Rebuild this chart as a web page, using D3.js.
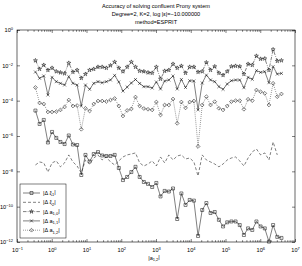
<!DOCTYPE html>
<html>
<head>
<meta charset="utf-8">
<script src="https://cdn.jsdelivr.net/npm/d3@7"></script>
<style>
  body { margin: 0; background: #fff; }
  text { font-family: "Liberation Sans", Arial, sans-serif; fill: #000; }
</style>
</head>
<body>
<svg id="chart" width="302" height="266"></svg>
<script>
// |a_{1,2}| sample points
const aVals = [0.339, 0.447, 0.589, 0.776, 1.02, 1.35, 1.78, 2.34, 3.09, 4.07,
  5.37, 7.08, 9.33, 12.3, 16.2, 21.4, 28.2, 37.2, 49.0, 64.6,
  85.1, 112, 148, 195, 257, 339, 447, 589, 776, 1023,
  1349, 1778, 2344, 3090, 4074, 5370, 7079, 9333, 12303, 16218,
  21380, 28184, 37154, 48978, 64565, 85114, 112202, 147911, 194984, 257040,
  338844, 446684, 588844, 776247, 1023293, 1348963, 1778279, 2344229, 3090295, 4073803];

const dXi1 = [2.75e-5, 4.8e-6, 8.1e-6, 4.3e-7, 1.7e-6, 7.8e-7, 4.6e-7, 3.5e-7, 1.07e-6, 3.3e-7,
  3.1e-7, 6.2e-9, 8.5e-8, 3.6e-8, 9.5e-8, 1.23e-7, 7.9e-8, 7.4e-8, 7.4e-8, 8.5e-8,
  1.55e-8, 3.2e-9, 4.8e-9, 9.1e-9, 1.8e-8, 4.8e-9, 2.5e-9, 1.95e-9, 1.3e-9, 2.2e-9,
  3.8e-10, 7.8e-10, 7.2e-10, 1.07e-9, 2.0e-11, 5.6e-10, 1.26e-10, 2.4e-10, 2.2e-10, 2.2e-12,
  6.5e-11, 1.6e-10, 4.4e-11, 5.0e-11, 1.8e-11, 7.6e-12, 1.3e-11, 1.45e-11, 1.45e-11, 9.1e-12,
  2.5e-12, 5.9e-12, 4.8e-12, 1.45e-11, 7.6e-12, 5.9e-12, 1.05e-12, 9.1e-12, 1.95e-12, 1.7e-12];

const dXi2 = [2.3e-8, 3.4e-8, 3.0e-8, 9.1e-9, 3.0e-8, 3.9e-8, 1.8e-8, 3.0e-8, 8.5e-8, 3.4e-8,
  2.0e-8, 8.1e-9, 4.4e-8, 2.6e-8, 5.7e-8, 8.5e-8, 4.4e-8, 6.5e-8, 3.4e-8, 2.3e-8,
  3.9e-8, 6.5e-8, 8.5e-8, 9.6e-8, 1.1e-7, 3.0e-8, 2.0e-8, 2.6e-8, 3.9e-8, 2.0e-8,
  6.5e-8, 3.0e-8, 8.5e-8, 4.4e-8, 7.4e-8, 8.5e-8, 5.0e-8, 5.7e-8, 3.4e-8, 5.5e-9,
  8.5e-8, 4.4e-8, 3.4e-8, 2.6e-8, 1.8e-8, 2.6e-8, 4.4e-8, 5.7e-8, 6.5e-8, 3.9e-8,
  2.0e-8, 5.7e-8, 1.26e-7, 1.85e-7, 8.5e-8, 1.1e-7, 4.4e-8, 4.6e-7, 8.5e-8, null];

const dA10 = [1.88e-2, 6.2e-3, 1.04e-2, 5.4e-3, 7.1e-3, 4.5e-3, 3.9e-3, 3.45e-3, 1.36e-2, 4.2e-3,
  5.4e-3, 1.9e-3, 3.2e-3, 5.4e-3, 6.2e-3, 8.1e-3, 8.1e-3, 7.1e-3, 9.8e-3, 1.55e-2,
  7.1e-3, 4.5e-3, 8.1e-3, 1.55e-2, 8.1e-3, 4.8e-3, 4.5e-3, 3.9e-3, 3.7e-3, 8.1e-3,
  1.7e-3, 4.8e-3, 5.4e-3, 1.19e-2, 7.1e-3, 9.2e-3, 3.7e-3, 8.1e-3, 8.1e-3, 4.2e-3,
  4.5e-3, 1.45e-2, 5.4e-3, 8.6e-3, 3.7e-3, 2.8e-3, 4.5e-3, 8.6e-3, 9.2e-3, 8.6e-3,
  3.2e-3, 1.19e-2, 1.04e-2, 3.4e-2, 2.3e-2, 2.4e-2, 5.4e-3, 7.9e-2, 1.76e-2, 1.88e-2];

const dA11 = [4.2e-3, 1.85e-3, 2.5e-3, 2.1e-4, 2.1e-3, 1.19e-3, 9.6e-4, 7.7e-4, 2.3e-3, 9.6e-4,
  7.7e-4, 5.0e-5, 7.7e-4, 4.4e-4, 9.6e-4, 1.19e-3, 1.04e-3, 1.19e-3, 1.48e-3, 2.7e-3,
  1.14e-3, 3.5e-4, 5.9e-4, 1.0e-3, 1.58e-3, 9.4e-4, 6.2e-4, 6.2e-4, 5.2e-4, 1.14e-3,
  4.6e-4, 1.3e-3, 1.48e-3, 2.5e-3, 4.6e-4, 1.58e-3, 5.6e-4, 1.35e-3, 1.3e-3, 3.0e-5,
  1.0e-3, 2.8e-3, 1.48e-3, 1.19e-3, 6.2e-4, 4.4e-4, 8.8e-4, 1.35e-3, 1.48e-3, 1.48e-3,
  5.4e-4, 2.1e-3, 1.62e-3, 5.0e-3, 4.0e-3, 4.4e-3, 1.04e-3, 8.4e-3, 3.2e-3, 3.5e-3];

const dA12 = [5.6e-4, 7.4e-5, 6.5e-5, 2.3e-5, 2.3e-5, 2.4e-5, 3.0e-5, 4.4e-5, 1.09e-4, 5.0e-5,
  5.3e-5, 2.4e-6, 3.7e-5, 2.6e-5, 6.5e-5, 9.6e-5, 9.6e-5, 9.0e-5, 1.09e-4, 1.33e-4,
  5.0e-5, 1.36e-5, 2.8e-5, 3.4e-5, 1.6e-4, 5.0e-5, 3.6e-5, 3.25e-5, 3.0e-5, 8.4e-5,
  1.55e-5, 5.7e-5, 5.7e-5, 1.24e-4, 5.2e-6, 8.4e-5, 3.9e-5, 8.4e-5, 9.6e-5, 2.55e-7,
  5.7e-5, 1.68e-4, 5.7e-5, 8.75e-5, 3.7e-5, 3.0e-5, 5.0e-5, 8.75e-5, 1.0e-4, 1.0e-4,
  3.25e-5, 1.2e-4, 1.0e-4, 4.0e-4, 3.2e-4, 2.6e-4, 5.7e-5, 9.6e-4, 1.68e-4, 2.4e-4];

const xTicks = [1e-1, 1e0, 1e1, 1e2, 1e3, 1e4, 1e5, 1e6, 1e7];
const yTicks = [1e-12, 1e-10, 1e-8, 1e-6, 1e-4, 1e-2, 1e0];
const titleLines = ['Accuracy of solving confluent Prony system',
  'Degree=2, K=2, log |\u03b5|=\u221210.000000', 'method=ESPRIT'];

const svg = d3.select('#chart');
const box = { left: 17, right: 295, top: 30, bottom: 242 };

const x = d3.scaleLog().domain([1e-1, 1e7]).range([box.left, box.right]);
const y = d3.scaleLog().domain([1e-12, 1]).range([box.bottom, box.top]);

const series = [
  { name: ['|\u0394 \u03be', '1', '|'], data: dXi1, dash: null, sym: d3.symbolSquare, size: 9 },
  { name: ['|\u0394 \u03be', '2', '|'], data: dXi2, dash: '3,2', sym: null },
  { name: ['|\u0394 a', '1,0', '|'], data: dA10, dash: '3.5,1.2,0.8,1.2', sym: d3.symbolStar, size: 5 },
  { name: ['|\u0394 a', '1,1', '|'], data: dA11, dash: null, sym: d3.symbolTimes, size: 7 },
  { name: ['|\u0394 a', '1,2', '|'], data: dA12, dash: '0.8,1.2', sym: d3.symbolDiamond2, size: 9 },
];

// plot background
svg.append('rect')
  .attr('x', box.left).attr('y', box.top)
  .attr('width', box.right - box.left).attr('height', box.bottom - box.top)
  .attr('fill', '#fff');

// minor x ticks
const xMinor = [];
for (let e = -1; e < 7; e += 1) {
  for (let m = 2; m <= 9; m += 1) xMinor.push(m * Math.pow(10, e));
}

function supLabel(sel) {
  sel.each(function (d) {
    const e = Math.round(Math.log10(d));
    const t = d3.select(this).text(null);
    t.append('tspan').text('10');
    t.append('tspan').attr('dy', '-0.5em').attr('font-size', '0.72em')
      .text(e < 0 ? '\u2212' + (-e) : e);
  });
}

const axisStyle = (g) => {
  g.select('.domain').remove();
  g.selectAll('line').attr('stroke', '#000').attr('stroke-width', 0.5);
  g.selectAll('text').attr('font-size', 5.6).attr('font-family', '"Liberation Sans", Arial, sans-serif');
};

svg.append('g').attr('transform', `translate(0,${box.bottom})`)
  .call(d3.axisBottom(x).tickValues(xMinor).tickSize(-1.8).tickFormat(''))
  .call(axisStyle);
svg.append('g').attr('transform', `translate(0,${box.top})`)
  .call(d3.axisTop(x).tickValues(xMinor).tickSize(-1.8).tickFormat(''))
  .call(axisStyle);
svg.append('g').attr('transform', `translate(0,${box.top})`)
  .call(d3.axisTop(x).tickValues(xTicks).tickSize(-3).tickFormat(''))
  .call(axisStyle);
svg.append('g').attr('transform', `translate(0,${box.bottom})`)
  .call(d3.axisBottom(x).tickValues(xTicks).tickSize(-3).tickPadding(6))
  .call(axisStyle)
  .selectAll('text').call(supLabel);

svg.append('g').attr('transform', `translate(${box.left},0)`)
  .call(d3.axisLeft(y).tickValues(yTicks).tickSize(-3).tickPadding(4))
  .call(axisStyle)
  .selectAll('text').call(supLabel);
svg.append('g').attr('transform', `translate(${box.right},0)`)
  .call(d3.axisRight(y).tickValues(yTicks).tickSize(-3).tickFormat(''))
  .call(axisStyle);

// frame
svg.append('rect')
  .attr('x', box.left).attr('y', box.top)
  .attr('width', box.right - box.left).attr('height', box.bottom - box.top)
  .attr('fill', 'none').attr('stroke', '#000').attr('stroke-width', 0.6);

// series
const plot = svg.append('g');
series.forEach((s) => {
  const pts = aVals.map((a, i) => [a, s.data[i]]);
  const line = d3.line()
    .defined(d => d[1] != null)
    .x(d => x(d[0]))
    .y(d => y(d[1]));
  plot.append('path')
    .datum(pts)
    .attr('d', line)
    .attr('fill', 'none')
    .attr('stroke', '#000')
    .attr('stroke-width', 0.5)
    .attr('stroke-dasharray', s.dash);
  if (s.sym) {
    plot.append('g').selectAll('path')
      .data(pts.filter(d => d[1] != null))
      .enter()
      .append('path')
      .attr('transform', d => `translate(${x(d[0])},${y(d[1])})`)
      .attr('d', d3.symbol().type(s.sym).size(s.size))
      .attr('fill', 'none')
      .attr('stroke', '#000')
      .attr('stroke-width', 0.5);
  }
});

// title
svg.append('g').selectAll('text')
  .data(titleLines)
  .enter()
  .append('text')
  .attr('x', (box.left + box.right) / 2)
  .attr('y', (d, i) => 8 + i * 8.2)
  .attr('text-anchor', 'middle')
  .attr('font-size', 5.6)
  .text(d => d);

// x label
const xl = svg.append('text')
  .attr('x', (box.left + box.right) / 2 - 2)
  .attr('y', 260)
  .attr('text-anchor', 'middle')
  .attr('font-size', 5.6);
xl.append('tspan').text('|a');
xl.append('tspan').attr('dy', '0.35em').attr('font-size', '0.72em').text('1,2');
xl.append('tspan').attr('dy', '-0.35em').text('|');

// legend
const lg = svg.append('g');
lg.append('rect')
  .attr('x', 20).attr('y', 184)
  .attr('width', 46).attr('height', 54)
  .attr('fill', '#fff').attr('stroke', '#000').attr('stroke-width', 0.5);

const item = lg.selectAll('g.item')
  .data(series)
  .enter()
  .append('g')
  .attr('class', 'item')
  .attr('transform', (d, i) => `translate(0,${193 + i * 9.3})`);

item.append('line')
  .attr('x1', 23).attr('x2', 40)
  .attr('stroke', '#000').attr('stroke-width', 0.5)
  .attr('stroke-dasharray', d => d.dash);
item.filter(d => d.sym)
  .append('path')
  .attr('transform', 'translate(31.5,0)')
  .attr('d', d => d3.symbol().type(d.sym).size(d.size)())
  .attr('fill', 'none').attr('stroke', '#000').attr('stroke-width', 0.5);

const lt = item.append('text')
  .attr('x', 43).attr('y', 2)
  .attr('font-size', 5.6);
lt.append('tspan').text(d => d.name[0]);
lt.append('tspan').attr('dy', '0.35em').attr('font-size', '0.72em').text(d => d.name[1]);
lt.append('tspan').attr('dy', '-0.35em').text(d => d.name[2]);
</script>
</body>
</html>
